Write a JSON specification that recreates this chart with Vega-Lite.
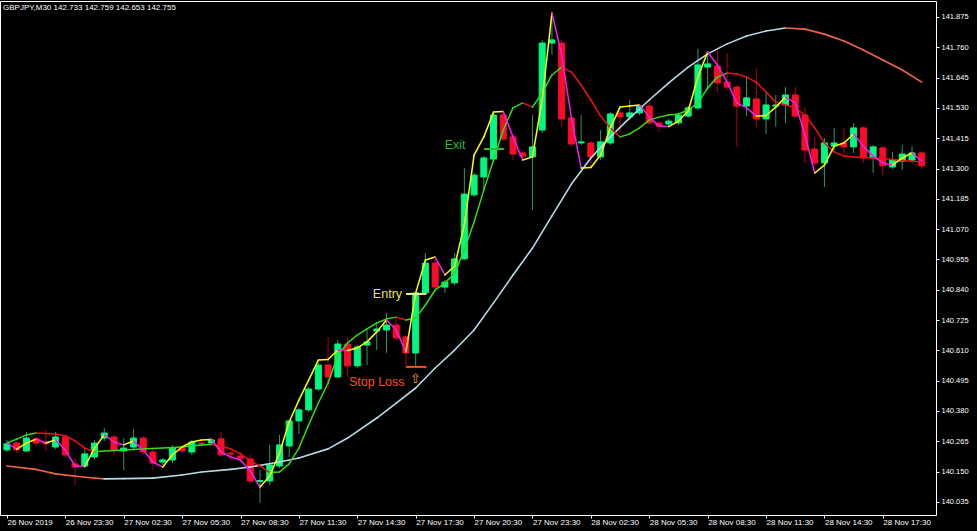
{
"$schema":"https://vega.github.io/schema/vega-lite/v6.json",
"width":936,"height":514,
"autosize":{"type":"none"},
"padding":{"left":0,"top":1,"right":41,"bottom":16},
"background":"#000000",
"title":{"text":"GBPJPY,M30  142.733 142.759 142.653 142.755","anchor":"start","orient":"top","offset":-11,"dx":3,"fontSize":8,"font":"Liberation Sans","fontWeight":"normal","color":"#ffffff"},
"config":{"view":{"stroke":"#ffffff","strokeWidth":1},"axis":{"grid":false,"domain":false,"tickColor":"#ffffff","labelColor":"#ffffff","labelFont":"Liberation Sans","labelFontSize":7.5,"tickSize":3,"labelOverlap":false,"labelFlush":false,"labelBound":false},"axisX":{"labelFontSize":8}},
"resolve":{"scale":{"color":"independent"}},
"datasets":{
"bars":[
{"i":0,"o":140.232,"h":140.270,"l":140.224,"c":140.255,"m":140.258,"f":140.258},
{"i":1,"o":140.258,"h":140.266,"l":140.220,"c":140.232,"m":140.273,"f":140.235},
{"i":2,"o":140.228,"h":140.300,"l":140.224,"c":140.277,"m":140.289,"f":140.258},
{"i":3,"o":140.274,"h":140.281,"l":140.247,"c":140.258,"m":140.296,"f":140.273},
{"i":4,"o":140.262,"h":140.308,"l":140.228,"c":140.255,"m":140.294,"f":140.258},
{"i":5,"o":140.243,"h":140.300,"l":140.235,"c":140.281,"m":140.292,"f":140.270},
{"i":6,"o":140.281,"h":140.292,"l":140.201,"c":140.213,"m":140.285,"f":140.232},
{"i":7,"o":140.179,"h":140.201,"l":140.099,"c":140.167,"m":140.266,"f":140.171},
{"i":8,"o":140.171,"h":140.239,"l":140.163,"c":140.217,"m":140.239,"f":140.169},
{"i":9,"o":140.205,"h":140.270,"l":140.194,"c":140.258,"m":140.224,"f":140.239},
{"i":10,"o":140.277,"h":140.315,"l":140.266,"c":140.296,"m":140.228,"f":140.289},
{"i":11,"o":140.281,"h":140.289,"l":140.213,"c":140.232,"m":140.230,"f":140.262},
{"i":12,"o":140.228,"h":140.277,"l":140.156,"c":140.239,"m":140.232,"f":140.251},
{"i":13,"o":140.243,"h":140.311,"l":140.235,"c":140.277,"m":140.234,"f":140.266},
{"i":14,"o":140.277,"h":140.285,"l":140.213,"c":140.224,"m":140.236,"f":140.232},
{"i":15,"o":140.224,"h":140.235,"l":140.156,"c":140.182,"m":140.237,"f":140.186},
{"i":16,"o":140.186,"h":140.201,"l":140.175,"c":140.194,"m":140.239,"f":140.167},
{"i":17,"o":140.194,"h":140.251,"l":140.182,"c":140.239,"m":140.241,"f":140.213},
{"i":18,"o":140.239,"h":140.247,"l":140.220,"c":140.228,"m":140.243,"f":140.243},
{"i":19,"o":140.224,"h":140.270,"l":140.213,"c":140.262,"m":140.247,"f":140.262},
{"i":20,"o":140.258,"h":140.262,"l":140.247,"c":140.255,"m":140.251,"f":140.270},
{"i":21,"o":140.258,"h":140.277,"l":140.247,"c":140.270,"m":140.253,"f":140.272},
{"i":22,"o":140.274,"h":140.300,"l":140.205,"c":140.213,"m":140.247,"f":140.224},
{"i":23,"o":140.220,"h":140.232,"l":140.194,"c":140.217,"m":140.236,"f":140.205},
{"i":24,"o":140.209,"h":140.224,"l":140.186,"c":140.201,"m":140.217,"f":140.194},
{"i":25,"o":140.198,"h":140.213,"l":140.106,"c":140.114,"m":140.190,"f":140.152},
{"i":26,"o":140.112,"h":140.156,"l":140.031,"c":140.116,"m":140.171,"f":140.091},
{"i":27,"o":140.114,"h":140.251,"l":140.099,"c":140.175,"m":140.146,"f":140.133},
{"i":28,"o":140.171,"h":140.289,"l":140.163,"c":140.251,"m":140.148,"f":140.220},
{"i":29,"o":140.247,"h":140.346,"l":140.205,"c":140.342,"m":140.179,"f":140.338},
{"i":30,"o":140.342,"h":140.391,"l":140.292,"c":140.384,"m":140.239,"f":140.421},
{"i":31,"o":140.384,"h":140.471,"l":140.376,"c":140.463,"m":140.327,"f":140.497},
{"i":32,"o":140.463,"h":140.562,"l":140.456,"c":140.554,"m":140.410,"f":140.573},
{"i":33,"o":140.554,"h":140.661,"l":140.463,"c":140.509,"m":140.486,"f":140.575},
{"i":34,"o":140.509,"h":140.649,"l":140.505,"c":140.634,"m":140.592,"f":140.611},
{"i":35,"o":140.634,"h":140.657,"l":140.509,"c":140.551,"m":140.638,"f":140.609},
{"i":36,"o":140.551,"h":140.630,"l":140.543,"c":140.623,"m":140.668,"f":140.619},
{"i":37,"o":140.630,"h":140.687,"l":140.554,"c":140.642,"m":140.691,"f":140.642},
{"i":38,"o":140.683,"h":140.717,"l":140.611,"c":140.691,"m":140.714,"f":140.680},
{"i":39,"o":140.687,"h":140.752,"l":140.600,"c":140.706,"m":140.729,"f":140.725},
{"i":40,"o":140.706,"h":140.737,"l":140.649,"c":140.657,"m":140.736,"f":140.687},
{"i":41,"o":140.661,"h":140.668,"l":140.551,"c":140.600,"m":140.725,"f":140.604},
{"i":42,"o":140.600,"h":140.832,"l":140.551,"c":140.828,"m":140.733,"f":140.828},
{"i":43,"o":140.828,"h":140.979,"l":140.824,"c":140.941,"m":140.782,"f":140.953},
{"i":44,"o":140.941,"h":140.953,"l":140.839,"c":140.850,"m":140.839,"f":140.964},
{"i":45,"o":140.850,"h":140.877,"l":140.828,"c":140.869,"m":140.865,"f":140.896},
{"i":46,"o":140.866,"h":140.979,"l":140.858,"c":140.957,"m":140.903,"f":140.930},
{"i":47,"o":140.957,"h":141.302,"l":140.953,"c":141.203,"m":140.991,"f":141.086},
{"i":48,"o":141.200,"h":141.283,"l":141.192,"c":141.275,"m":141.097,"f":141.351},
{"i":49,"o":141.268,"h":141.347,"l":141.218,"c":141.340,"m":141.218,"f":141.420},
{"i":50,"o":141.336,"h":141.511,"l":141.321,"c":141.503,"m":141.332,"f":141.514},
{"i":51,"o":141.503,"h":141.511,"l":141.405,"c":141.412,"m":141.446,"f":141.516},
{"i":52,"o":141.420,"h":141.427,"l":141.332,"c":141.355,"m":141.530,"f":141.420},
{"i":53,"o":141.359,"h":141.370,"l":141.340,"c":141.347,"m":141.549,"f":141.332},
{"i":54,"o":141.344,"h":141.503,"l":141.143,"c":141.382,"m":141.533,"f":141.344},
{"i":55,"o":141.446,"h":141.788,"l":141.435,"c":141.776,"m":141.587,"f":141.560},
{"i":56,"o":141.776,"h":141.890,"l":141.731,"c":141.788,"m":141.655,"f":141.890},
{"i":57,"o":141.776,"h":141.788,"l":141.458,"c":141.488,"m":141.685,"f":141.731},
{"i":58,"o":141.492,"h":141.499,"l":141.385,"c":141.393,"m":141.666,"f":141.492},
{"i":59,"o":141.397,"h":141.503,"l":141.389,"c":141.401,"m":141.617,"f":141.302},
{"i":60,"o":141.397,"h":141.405,"l":141.306,"c":141.344,"m":141.560,"f":141.304},
{"i":61,"o":141.344,"h":141.446,"l":141.332,"c":141.401,"m":141.499,"f":141.351},
{"i":62,"o":141.397,"h":141.515,"l":141.389,"c":141.507,"m":141.454,"f":141.454},
{"i":63,"o":141.511,"h":141.518,"l":141.435,"c":141.496,"m":141.420,"f":141.533},
{"i":64,"o":141.496,"h":141.560,"l":141.484,"c":141.511,"m":141.431,"f":141.537},
{"i":65,"o":141.511,"h":141.545,"l":141.503,"c":141.537,"m":141.454,"f":141.541},
{"i":66,"o":141.537,"h":141.560,"l":141.465,"c":141.473,"m":141.484,"f":141.495},
{"i":67,"o":141.473,"h":141.480,"l":141.439,"c":141.461,"m":141.495,"f":141.461},
{"i":68,"o":141.469,"h":141.488,"l":141.461,"c":141.480,"m":141.503,"f":141.459},
{"i":69,"o":141.473,"h":141.511,"l":141.465,"c":141.503,"m":141.507,"f":141.480},
{"i":70,"o":141.499,"h":141.537,"l":141.492,"c":141.530,"m":141.522,"f":141.518},
{"i":71,"o":141.530,"h":141.754,"l":141.522,"c":141.693,"m":141.549,"f":141.647},
{"i":72,"o":141.685,"h":141.731,"l":141.598,"c":141.697,"m":141.606,"f":141.742},
{"i":73,"o":141.689,"h":141.750,"l":141.590,"c":141.625,"m":141.647,"f":141.693},
{"i":74,"o":141.628,"h":141.738,"l":141.598,"c":141.609,"m":141.662,"f":141.628},
{"i":75,"o":141.609,"h":141.617,"l":141.385,"c":141.537,"m":141.659,"f":141.549},
{"i":76,"o":141.537,"h":141.651,"l":141.499,"c":141.568,"m":141.647,"f":141.530},
{"i":77,"o":141.564,"h":141.681,"l":141.458,"c":141.488,"m":141.628,"f":141.499},
{"i":78,"o":141.488,"h":141.587,"l":141.431,"c":141.541,"m":141.590,"f":141.501},
{"i":79,"o":141.537,"h":141.579,"l":141.458,"c":141.541,"m":141.552,"f":141.533},
{"i":80,"o":141.541,"h":141.609,"l":141.473,"c":141.579,"m":141.541,"f":141.571},
{"i":81,"o":141.579,"h":141.609,"l":141.492,"c":141.499,"m":141.530,"f":141.549},
{"i":82,"o":141.503,"h":141.533,"l":141.321,"c":141.370,"m":141.503,"f":141.427},
{"i":83,"o":141.374,"h":141.420,"l":141.313,"c":141.321,"m":141.454,"f":141.283},
{"i":84,"o":141.321,"h":141.416,"l":141.230,"c":141.397,"m":141.397,"f":141.313},
{"i":85,"o":141.385,"h":141.454,"l":141.370,"c":141.397,"m":141.363,"f":141.385},
{"i":86,"o":141.397,"h":141.454,"l":141.351,"c":141.382,"m":141.347,"f":141.397},
{"i":87,"o":141.382,"h":141.473,"l":141.359,"c":141.454,"m":141.344,"f":141.431},
{"i":88,"o":141.454,"h":141.461,"l":141.321,"c":141.340,"m":141.342,"f":141.385},
{"i":89,"o":141.340,"h":141.389,"l":141.283,"c":141.382,"m":141.340,"f":141.347},
{"i":90,"o":141.378,"h":141.385,"l":141.275,"c":141.310,"m":141.338,"f":141.321},
{"i":91,"o":141.306,"h":141.363,"l":141.298,"c":141.332,"m":141.334,"f":141.313},
{"i":92,"o":141.328,"h":141.389,"l":141.294,"c":141.355,"m":141.330,"f":141.340},
{"i":93,"o":141.332,"h":141.385,"l":141.321,"c":141.359,"m":141.328,"f":141.359},
{"i":94,"o":141.359,"h":141.366,"l":141.298,"c":141.310,"m":141.325,"f":141.328}
],
"slow":[
{"i":0,"v":140.171},{"i":3,"v":140.158},{"i":5,"v":140.141},{"i":8,"v":140.128},{"i":10,"v":140.122},{"i":12,"v":140.123},{"i":15,"v":140.125},{"i":18,"v":140.137},{"i":20,"v":140.148},{"i":23,"v":140.158},{"i":25,"v":140.167},{"i":28,"v":140.186},{"i":30,"v":140.201},{"i":33,"v":140.236},{"i":35,"v":140.277},{"i":38,"v":140.353},{"i":40,"v":140.410},{"i":42,"v":140.467},{"i":44,"v":140.543},{"i":46,"v":140.611},{"i":48,"v":140.687},{"i":50,"v":140.790},{"i":52,"v":140.896},{"i":54,"v":140.998},{"i":56,"v":141.120},{"i":58,"v":141.241},{"i":60,"v":141.340},{"i":62,"v":141.420},{"i":64,"v":141.492},{"i":66,"v":141.560},{"i":68,"v":141.625},{"i":70,"v":141.685},{"i":72,"v":141.735},{"i":74,"v":141.773},{"i":76,"v":141.803},{"i":78,"v":141.822},{"i":80,"v":141.833},{"i":82,"v":141.829},{"i":84,"v":141.810},{"i":86,"v":141.784},{"i":88,"v":141.750},{"i":90,"v":141.712},{"i":92,"v":141.674},{"i":94,"v":141.628}
],
"notes":[
{"i":39.1,"p":140.824,"t":"Entry","k":"entry"},
{"i":46.05,"p":141.389,"t":"Exit","k":"exit"},
{"i":38.0,"p":140.490,"t":"Stop Loss","k":"sl"},
{"i":42.0,"p":140.501,"t":"⇧","k":"arrow"}
],
"levels":[
{"i":41.0,"i2":43.1,"p":140.824,"k":"entry"},
{"i":41.0,"i2":43.1,"p":140.547,"k":"sl"},
{"i":49.0,"i2":51.1,"p":141.374,"k":"exit"}
]
},
"layer":[
{"data":{"name":"bars"},
 "mark":{"type":"rule","strokeWidth":1},
 "encoding":{
  "x":{"field":"i","type":"quantitative","title":null,"scale":{"domain":[-0.2,94.95],"nice":false,"zero":false},
       "axis":{"orient":"bottom","values":[0,6,12,18,24,30,36,42,48,54,60,66,72,78,84,90],"tickCount":40,"labelAlign":"left","labelBaseline":"top","labelPadding":0,"labelOverlap":false,"labelFlush":false,"labelBound":false,
       "labelExpr":"['26 Nov 2019','26 Nov 23:30','27 Nov 02:30','27 Nov 05:30','27 Nov 08:30','27 Nov 11:30','27 Nov 14:30','27 Nov 17:30','27 Nov 20:30','27 Nov 23:30','28 Nov 02:30','28 Nov 05:30','28 Nov 08:30','28 Nov 11:30','28 Nov 14:30','28 Nov 17:30'][round(datum.value/6)]"}},
  "y":{"field":"l","type":"quantitative","title":null,"scale":{"domain":[139.985,141.9357],"nice":false,"zero":false},
       "axis":{"orient":"right","values":[140.035,140.150,140.265,140.380,140.495,140.610,140.725,140.840,140.955,141.070,141.185,141.300,141.415,141.530,141.645,141.760,141.875],"tickCount":40,"format":".3f","labelPadding":2,"labelOverlap":false,"labelFlush":false,"labelBound":false}},
  "y2":{"field":"h"},
  "color":{"condition":{"test":"datum.c >= datum.o","value":"#2e9a5c"},"value":"#b00010"}
 }},
{"data":{"name":"bars"},
 "mark":{"type":"bar","size":6,"strokeWidth":1},
 "encoding":{
  "x":{"field":"i","type":"quantitative","title":null,"scale":{"domain":[-0.2,94.95],"nice":false,"zero":false}},
  "y":{"field":"o","type":"quantitative","title":null,"scale":{"domain":[139.985,141.9357],"nice":false,"zero":false}},
  "y2":{"field":"c"},
  "color":{"condition":{"test":"datum.c >= datum.o","value":"#00f882"},"value":"#ff0a2a"},
  "stroke":{"condition":{"test":"datum.c >= datum.o","value":"#00f882"},"value":"#ff0a2a"}
 }},
{"data":{"name":"slow"},
 "transform":[
  {"window":[{"op":"lag","field":"v","as":"pv"},{"op":"lag","field":"i","as":"pi"}],"sort":[{"field":"i"}]},
  {"filter":"datum.pv != null"},
  {"calculate":"datum.v >= datum.pv ? 'up' : 'dn'","as":"k"}
 ],
 "mark":{"type":"rule","strokeWidth":1.6,"strokeCap":"round"},
 "encoding":{
  "x":{"field":"pi","type":"quantitative","title":null,"scale":{"domain":[-0.2,94.95],"nice":false,"zero":false}},
  "x2":{"field":"i"},
  "y":{"field":"pv","type":"quantitative","title":null,"scale":{"domain":[139.985,141.9357],"nice":false,"zero":false}},
  "y2":{"field":"v"},
  "color":{"field":"k","type":"nominal","scale":{"domain":["up","dn"],"range":["#b4dbe9","#f0654a"]},"legend":null}
 }},
{"data":{"name":"bars"},
 "transform":[
  {"fold":["m","f"],"as":["s","v"]},
  {"window":[{"op":"lag","field":"v","as":"pv"},{"op":"lag","field":"i","as":"pi"}],"groupby":["s"],"sort":[{"field":"i"}]},
  {"filter":"datum.pv != null"},
  {"calculate":"datum.s + (datum.v >= datum.pv ? '_up' : '_dn')","as":"k"}
 ],
 "mark":{"type":"rule","strokeWidth":1.5,"strokeCap":"round"},
 "encoding":{
  "x":{"field":"pi","type":"quantitative","title":null,"scale":{"domain":[-0.2,94.95],"nice":false,"zero":false}},
  "x2":{"field":"i"},
  "y":{"field":"pv","type":"quantitative","title":null,"scale":{"domain":[139.985,141.9357],"nice":false,"zero":false}},
  "y2":{"field":"v"},
  "color":{"field":"k","type":"nominal","scale":{"domain":["m_up","m_dn","f_up","f_dn"],"range":["#33dd11","#ee1111","#ffff00","#ee22ee"]},"legend":null}
 }},
{"data":{"name":"levels"},
 "mark":{"type":"rule","strokeWidth":2},
 "encoding":{
  "x":{"field":"i","type":"quantitative","title":null,"scale":{"domain":[-0.2,94.95],"nice":false,"zero":false}},
  "x2":{"field":"i2"},
  "y":{"field":"p","type":"quantitative","title":null,"scale":{"domain":[139.985,141.9357],"nice":false,"zero":false}},
  "color":{"field":"k","type":"nominal","scale":{"domain":["entry","exit","sl"],"range":["#f2f290","#2fb52f","#ff4a1a"]},"legend":null}
 }},
{"data":{"name":"notes"},
 "mark":{"type":"text","font":"Liberation Sans","fontSize":12.5,"align":"center","baseline":"middle"},
 "encoding":{
  "x":{"field":"i","type":"quantitative","title":null,"scale":{"domain":[-0.2,94.95],"nice":false,"zero":false}},
  "y":{"field":"p","type":"quantitative","title":null,"scale":{"domain":[139.985,141.9357],"nice":false,"zero":false}},
  "text":{"field":"t"},
  "color":{"field":"k","type":"nominal","scale":{"domain":["entry","exit","sl","arrow"],"range":["#e8e830","#2fb52f","#ff4a1a","#f0a020"]},"legend":null}
 }}
]
}
